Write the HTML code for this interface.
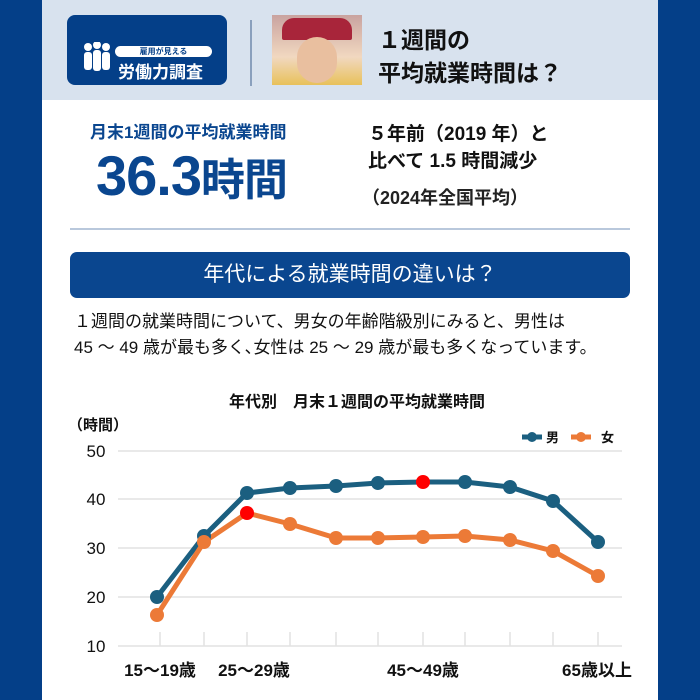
<!DOCTYPE html>
<html><head><meta charset="utf-8"><style>
body{margin:0;width:700px;height:700px;position:relative;overflow:hidden;background:#fff;font-family:"Liberation Sans","Noto Sans CJK JP",sans-serif;}
.a{position:absolute;white-space:nowrap;}
</style></head><body>
<div class="a" style="left:0;top:0;width:42px;height:700px;background:#043f88"></div>
<div class="a" style="left:658px;top:0;width:42px;height:700px;background:#043f88"></div>
<div class="a" style="left:42px;top:0;width:616px;height:100px;background:#d8e2ee"></div>
<div class="a" style="left:67px;top:15px;width:160px;height:70px;background:#043f88;border-radius:8px"></div>
<div class="a" style="left:82px;top:42px;width:30px;height:30px;">
<svg width="30" height="30"><g fill="#fff"><circle cx="6" cy="5" r="4"/><circle cx="15" cy="3" r="4"/><circle cx="24" cy="5" r="4"/><rect x="2" y="10" width="8" height="18" rx="3"/><rect x="11" y="8" width="8" height="21" rx="3"/><rect x="20" y="10" width="8" height="18" rx="3"/></g></svg></div>
<div class="a" style="left:115px;top:46px;width:97px;height:11px;background:#fff;border-radius:6px;color:#043f88;font-size:8px;font-weight:bold;line-height:11px;text-align:center">雇用が見える</div>
<div class="a" style="left:118px;top:58px;color:#fff;font-size:17px;font-weight:bold">労働力調査</div>
<div class="a" style="left:250px;top:20px;width:2px;height:66px;background:#8aa0bd"></div>
<div class="a" style="left:272px;top:15px;width:90px;height:70px;background:linear-gradient(#c9a3a0,#f1d8c0 60%,#e8c15a)"></div>
<div class="a" style="left:282px;top:18px;width:70px;height:22px;background:#a8253a;border-radius:12px 12px 2px 2px"></div>
<div class="a" style="left:297px;top:37px;width:40px;height:46px;background:#e9bf9f;border-radius:20px"></div>
<div class="a" style="left:378px;top:24px;font-size:23px;font-weight:bold;color:#111;line-height:33px">１週間の<br>平均就業時間は？</div>
<div class="a" style="left:90px;top:118px;font-size:17px;font-weight:bold;color:#0a468f">月末1週間の平均就業時間</div>
<div class="a" style="left:96px;top:143px;font-size:56px;font-weight:bold;color:#0a468f;letter-spacing:-1px">36.3<span style="font-size:44px">時間</span></div>
<div class="a" style="left:368px;top:121px;font-size:19px;font-weight:bold;color:#111;line-height:27px">５年前（2019 年）と<br>比べて 1.5 時間減少</div>
<div class="a" style="left:362px;top:184px;font-size:18px;font-weight:bold;color:#222">（2024年全国平均）</div>
<div class="a" style="left:70px;top:228px;width:560px;height:2px;background:#b9c8dc"></div>
<div class="a" style="left:70px;top:252px;width:560px;height:46px;background:#0a468f;border-radius:7px;color:#fff;font-size:21px;line-height:46px;text-align:center">年代による就業時間の違いは？</div>
<div class="a" style="left:74px;top:309px;font-size:17px;color:#111;line-height:26px">１週間の就業時間について、男女の年齢階級別にみると、男性は<br>45 ～ 49 歳が最も多く､女性は 25 ～ 29 歳が最も多くなっています。</div>
<svg class="a" style="left:0;top:0" width="700" height="700" font-family="Liberation Sans,Noto Sans CJK JP,sans-serif">
<text x="357" y="407" font-size="16" font-weight="bold" text-anchor="middle" fill="#111">年代別　月末１週間の平均就業時間</text>
<text x="68" y="430" font-size="15" font-weight="bold" fill="#111">（時間）</text>
<g stroke="#e2e2e2" stroke-width="1.5"><line x1="118" y1="451" x2="622" y2="451"/><line x1="118" y1="499" x2="622" y2="499"/><line x1="118" y1="548" x2="622" y2="548"/><line x1="118" y1="597" x2="622" y2="597"/><line x1="118" y1="646" x2="622" y2="646"/>
<path d="M160 632v14M204 632v14M247 632v14M290 632v14M336 632v14M378 632v14M423 632v14M465 632v14M510 632v14M553 632v14M598 632v14"/></g>
<g font-size="17" fill="#111" text-anchor="middle"><text x="96" y="457">50</text><text x="96" y="505">40</text><text x="96" y="554">30</text><text x="96" y="603">20</text><text x="96" y="652">10</text></g>
<g font-size="17" font-weight="bold" fill="#111" text-anchor="middle"><text x="160" y="676">15～19歳</text><text x="254" y="676">25～29歳</text><text x="423" y="676">45～49歳</text><text x="597" y="676">65歳以上</text></g>
<polyline fill="none" stroke="#1b5f80" stroke-width="5" points="157,597 204,536 247,493 290,488 336,486 378,483 423,482 465,482 510,487 553,501 598,542"/>
<polyline fill="none" stroke="#ec7a37" stroke-width="5" points="157,615 204,542 247,513 290,524 336,538 378,538 423,537 465,536 510,540 553,551 598,576"/>
<g fill="#1b5f80"><circle cx="157" cy="597" r="7"/><circle cx="204" cy="536" r="7"/><circle cx="247" cy="493" r="7"/><circle cx="290" cy="488" r="7"/><circle cx="336" cy="486" r="7"/><circle cx="378" cy="483" r="7"/><circle cx="465" cy="482" r="7"/><circle cx="510" cy="487" r="7"/><circle cx="553" cy="501" r="7"/><circle cx="598" cy="542" r="7"/></g>
<circle cx="423" cy="482" r="7" fill="#f00"/>
<g fill="#ec7a37"><circle cx="157" cy="615" r="7"/><circle cx="204" cy="542" r="7"/><circle cx="290" cy="524" r="7"/><circle cx="336" cy="538" r="7"/><circle cx="378" cy="538" r="7"/><circle cx="423" cy="537" r="7"/><circle cx="465" cy="536" r="7"/><circle cx="510" cy="540" r="7"/><circle cx="553" cy="551" r="7"/><circle cx="598" cy="576" r="7"/></g>
<circle cx="247" cy="513" r="7" fill="#f00"/>
<line x1="522" y1="437" x2="542" y2="437" stroke="#1b5f80" stroke-width="5"/><circle cx="532" cy="437" r="5" fill="#1b5f80"/>
<text x="546" y="442" font-size="13" font-weight="bold" fill="#111">男</text>
<line x1="571" y1="437" x2="591" y2="437" stroke="#ec7a37" stroke-width="5"/><circle cx="581" cy="437" r="5" fill="#ec7a37"/>
<text x="601" y="442" font-size="13" font-weight="bold" fill="#111">女</text>
</svg>
</body></html>
